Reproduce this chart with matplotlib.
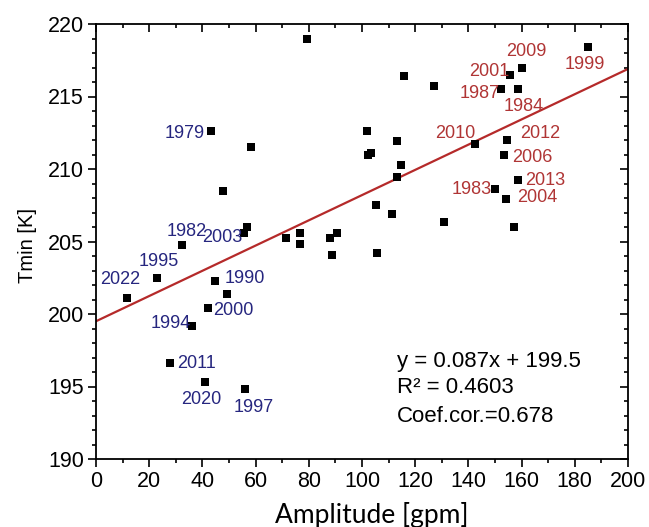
import matplotlib
matplotlib.use("Agg")
import matplotlib.pyplot as plt
from matplotlib.ticker import MultipleLocator

plt.rcParams['font.family'] = ['Liberation Sans', 'DejaVu Sans']

# ---- data ----
amplitude = [43.1, 58.4, 47.9, 79.2, 101.8, 102.3, 103.4, 184.8, 160.0, 155.5,
             152.1, 158.8, 115.7, 127.1, 113.0, 114.8, 113.0, 142.4, 154.5, 153.4,
             158.8, 150.0, 154.0, 105.1, 111.4, 130.8, 157.1, 56.6, 55.6, 32.2,
             71.3, 76.7, 76.7, 88.0, 90.5, 88.7, 22.9, 11.7, 44.6, 49.2,
             42.2, 36.1, 27.8, 41.0, 55.9, 105.8]
tmin = [212.6, 211.5, 208.5, 219.0, 212.6, 210.97, 211.1, 218.4, 217.0, 216.45,
        215.5, 215.55, 216.4, 215.7, 211.95, 210.26, 209.43, 211.7, 212.0, 211.0,
        209.25, 208.65, 207.95, 207.5, 206.87, 206.37, 206.0, 206.0, 205.6, 204.75,
        205.25, 205.57, 204.83, 205.24, 205.57, 204.07, 202.5, 201.1, 202.3, 201.4,
        200.4, 199.2, 196.6, 195.3, 194.8, 204.2]
years = ['1979', '', '', '', '', '', '', '1999', '2009', '2001',
         '1987', '1984', '', '', '', '', '', '2010', '2012', '2006',
         '2013', '1983', '2004', '', '', '', '', '', '2003', '1982',
         '', '', '', '', '', '', '1995', '2022', '1990', '',
         '2000', '1994', '2011', '2020', '1997', '']
blue_years = ['1979', '1982', '2003', '1995', '2022', '1990', '2000', '1994',
              '2011', '2020', '1997']
red_years = ['1999', '2009', '2001', '1987', '1984', '2010', '2012', '2006',
             '2013', '1983', '2004']
slope = 0.087
intercept = 199.5
r_squared = 0.4603
coef_cor = 0.678
line_x = [0, 200]

# label placement (pixel offsets from point to label centre)
label_offsets = {
    '1979': (-26, -2), '1982': (5, 14), '2003': (-22, -5), '1995': (2, 16),
    '2022': (-7, 19), '1990': (30, 2), '2000': (25, -2), '1994': (-21, 2),
    '2011': (27, 0), '2020': (-4, -17), '1997': (9, -18),
    '2009': (5, 16), '1999': (-3, -17), '2001': (-20, 4), '1987': (-21, -4),
    '1984': (5, -18), '2010': (-20, 11), '2012': (33, 6), '2006': (28, -3),
    '2013': (27, -1), '1983': (-23, -1), '2004': (32, 1),
}

blue = '#26267f'
red = '#b03535'
line_color = '#b52a2a'

fig = plt.figure(figsize=(6.49, 5.27), dpi=100)
ax = fig.add_axes([96/649, 1-459/527, 532/649, 435/527])

ax.plot(line_x, [slope*x + intercept for x in line_x], color=line_color,
        lw=1.6, zorder=2)
ax.scatter(amplitude, tmin, marker='s', s=32, color='black', zorder=3,
           linewidths=0)

for a, t, yr in zip(amplitude, tmin, years):
    if not yr:
        continue
    col = blue if yr in blue_years else red
    dx, dy = label_offsets[yr]
    ax.annotate(yr, (a, t), xytext=(dx, dy), textcoords='offset pixels',
                ha='center', va='center', fontsize=13, color=col, zorder=4)

ax.text(113.0, 196.37, f'y = {slope}x + {intercept}', fontsize=16,
        va='baseline', ha='left')
ax.text(113.0, 194.53, f'R² = {r_squared}', fontsize=16,
        va='baseline', ha='left')
ax.text(113.0, 192.53, f'Coef.cor.={coef_cor}', fontsize=16,
        va='baseline', ha='left')

ax.set_xlim(0, 200)
ax.set_ylim(190, 220)
ax.xaxis.set_major_locator(MultipleLocator(20))
ax.xaxis.set_minor_locator(MultipleLocator(10))
ax.yaxis.set_major_locator(MultipleLocator(5))
ax.yaxis.set_minor_locator(MultipleLocator(1))

ax.tick_params(axis='both', which='both', direction='out', width=1.2,
               top=True, right=True, labelsize=15.5, colors='black')
ax.tick_params(which='major', length=5.8)
ax.tick_params(which='minor', length=3.0)
ax.tick_params(axis='x', which='both', pad=3)
ax.tick_params(axis='y', which='both', pad=3)
# top and right ticks point inward
for tk in ax.xaxis.get_major_ticks() + ax.xaxis.get_minor_ticks():
    tk.tick2line.set_marker(matplotlib.lines.TICKDOWN)
for tk in ax.yaxis.get_major_ticks() + ax.yaxis.get_minor_ticks():
    tk.tick2line.set_marker(matplotlib.lines.TICKLEFT)

for sp in ax.spines.values():
    sp.set_linewidth(1.3)
    sp.set_color('black')

ax.set_xlabel('Amplitude [gpm]', fontsize=19, family=['Lato', 'DejaVu Sans'],
              va='baseline')
ax.xaxis.set_label_coords((372-96)/532, (459-523)/435)
ax.set_ylabel('Tmin [K]', fontsize=14.5, va='center')
ax.yaxis.set_label_coords((27-96)/532, (459-245.7)/435)

fig.savefig('out.png', dpi=100)
